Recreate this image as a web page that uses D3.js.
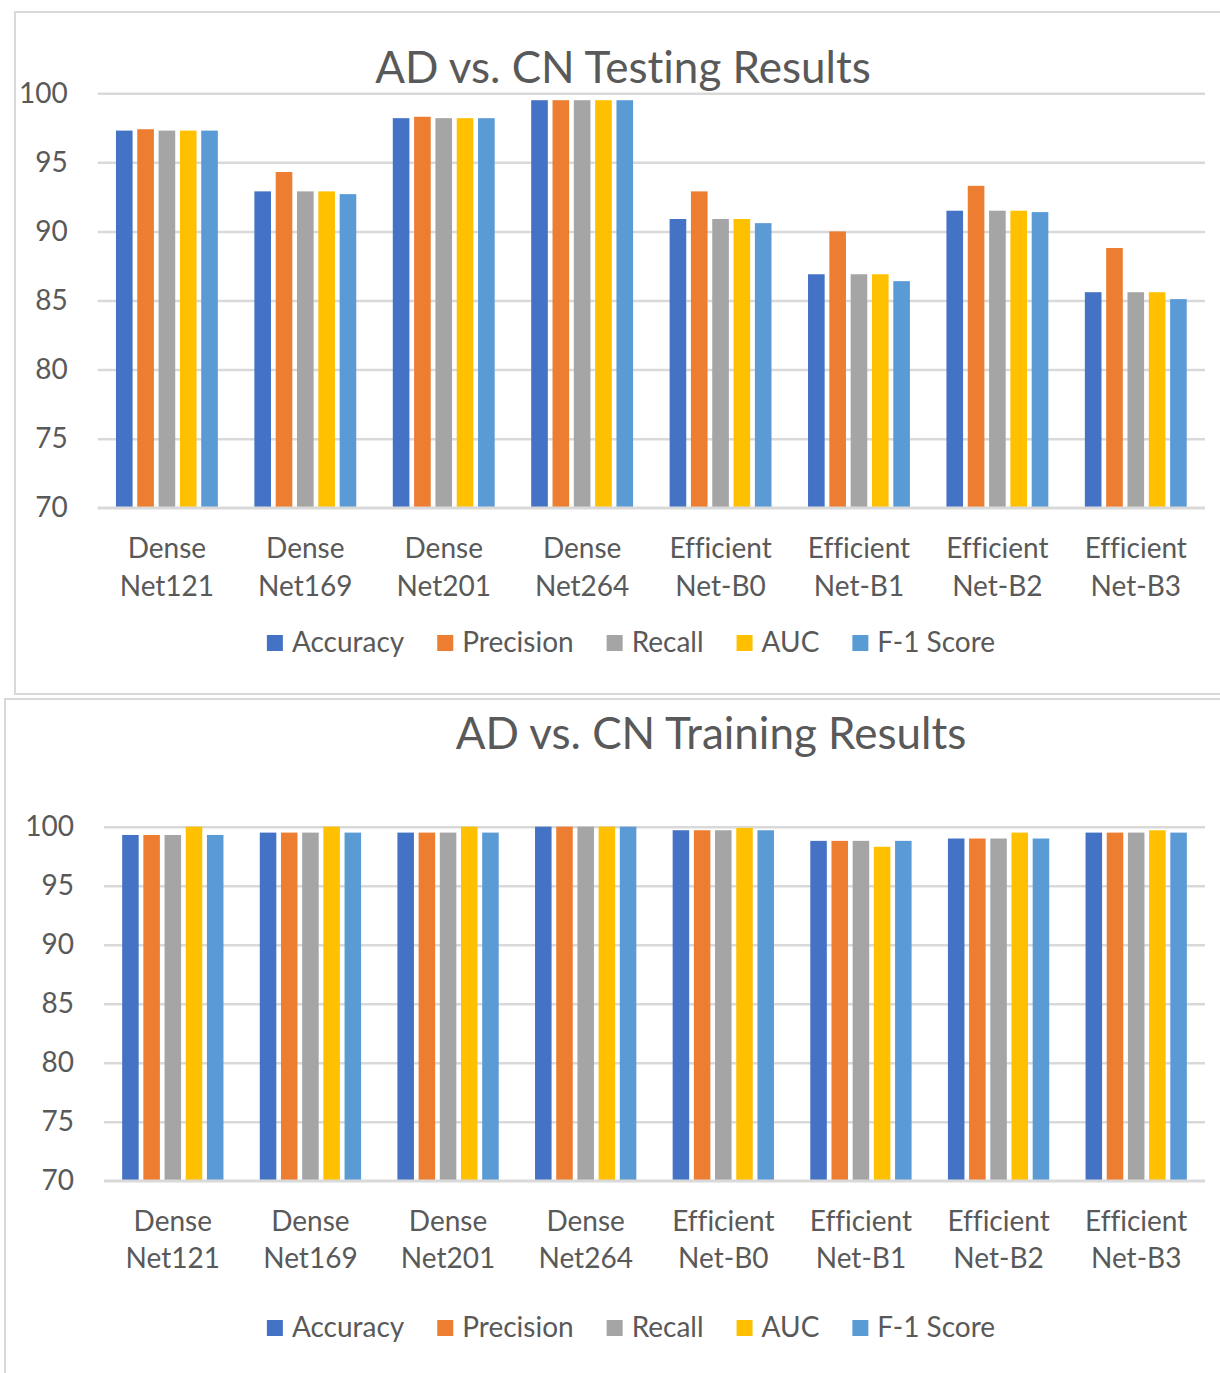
<!DOCTYPE html>
<html>
<head>
<meta charset="utf-8">
<script src="https://cdn.jsdelivr.net/npm/d3@7"></script>
<style>
  html, body { margin: 0; padding: 0; background: #fff; }
  svg { display: block; }
  text { font-family: Lato, "Open Sans", sans-serif; fill: #595959; font-variant-ligatures: none; }
</style>
</head>
<body>
<svg id="chart" width="1220" height="1373"></svg>
<script>
// Models compared (two-line axis labels)
const categoryLines = [
  ["Dense", "Net121"], ["Dense", "Net169"], ["Dense", "Net201"], ["Dense", "Net264"],
  ["Efficient", "Net-B0"], ["Efficient", "Net-B1"], ["Efficient", "Net-B2"], ["Efficient", "Net-B3"]
];
const seriesNames = ["Accuracy", "Precision", "Recall", "AUC", "F-1 Score"];
const seriesColors = ["#4472C4", "#ED7D31", "#A5A5A5", "#FFC000", "#5B9BD5"];
const yTicks = [70, 75, 80, 85, 90, 95, 100];

// Testing metrics (%)
const testAccuracy  = [97.3, 92.9, 98.2, 99.5, 90.9, 86.9, 91.5, 85.6];
const testPrecision = [97.4, 94.3, 98.3, 99.5, 92.9, 90.0, 93.3, 88.8];
const testRecall    = [97.3, 92.9, 98.2, 99.5, 90.9, 86.9, 91.5, 85.6];
const testAUC       = [97.3, 92.9, 98.2, 99.5, 90.9, 86.9, 91.5, 85.6];
const testF1        = [97.3, 92.7, 98.2, 99.5, 90.6, 86.4, 91.4, 85.1];

// Training metrics (%)
const trainAccuracy  = [99.3, 99.5, 99.5, 100, 99.7, 98.8, 99.0, 99.5];
const trainPrecision = [99.3, 99.5, 99.5, 100, 99.7, 98.8, 99.0, 99.5];
const trainRecall    = [99.3, 99.5, 99.5, 100, 99.7, 98.8, 99.0, 99.5];
const trainAUC       = [100, 100, 100, 100, 99.9, 98.3, 99.5, 99.7];
const trainF1        = [99.3, 99.5, 99.5, 100, 99.7, 98.8, 99.0, 99.5];

const svg = d3.select("#chart");
const gridColor = "#D9D9D9";

function drawChart(opt) {
  const g = svg.append("g");

  // chart frame
  g.append("rect")
    .attr("x", opt.frame[0]).attr("y", opt.frame[1])
    .attr("width", opt.frame[2]).attr("height", opt.frame[3])
    .attr("fill", "#fff").attr("stroke", gridColor).attr("stroke-width", 2);

  const x = d3.scaleBand()
    .domain(d3.range(categoryLines.length))
    .range([opt.left, opt.right])
    .paddingInner(0.23).paddingOuter(0.115);
  const xs = d3.scaleBand()
    .domain(d3.range(seriesNames.length))
    .range([0, x.bandwidth()])
    .paddingInner(0.22).paddingOuter(0.11);
  const y = d3.scaleLinear().domain([70, 100]).range([opt.bottom, opt.top]);

  // gridlines + tick labels
  const axis = g.append("g")
    .attr("transform", `translate(${opt.left},0)`)
    .call(d3.axisLeft(y).tickValues(yTicks)
      .tickSize(-(opt.right - opt.left)).tickPadding(30));
  axis.select(".domain").remove();
  axis.selectAll(".tick line").attr("stroke", gridColor).attr("stroke-width", 2.5);
  axis.selectAll(".tick text")
    .attr("fill", "#595959").style("font-size", "28px")
    .style("font-family", "Lato, 'Open Sans', sans-serif");

  // bars
  const groups = g.append("g").selectAll("g")
    .data(categoryLines.map((c, i) => i))
    .join("g")
    .attr("transform", i => `translate(${x(i)},0)`);
  groups.selectAll("rect")
    .data(i => opt.values.map((vals, s) => ({ s, v: vals[i] })))
    .join("rect")
    .attr("x", d => xs(d.s))
    .attr("width", xs.bandwidth())
    .attr("y", d => y(d.v))
    .attr("height", d => y(70) - y(d.v))
    .attr("fill", d => seriesColors[d.s]);

  // category axis line
  g.append("line")
    .attr("x1", opt.left).attr("x2", opt.right)
    .attr("y1", y(70)).attr("y2", y(70))
    .attr("stroke", gridColor).attr("stroke-width", 2.5);

  // category labels
  const lab = g.append("g").selectAll("text")
    .data(categoryLines)
    .join("text")
    .attr("text-anchor", "middle")
    .style("font-size", "28px");
  lab.each(function (lines, i) {
    const t = d3.select(this);
    lines.forEach((ln, k) => {
      t.append("tspan")
        .attr("x", x(i) + x.bandwidth() / 2)
        .attr("y", opt.catBaseline + k * 37.5)
        .text(ln);
    });
  });

  // title
  g.append("text")
    .attr("x", opt.titleX).attr("y", opt.titleY)
    .attr("text-anchor", "middle")
    .style("font-size", "44px")
    .text(opt.title);

  // legend
  const leg = g.append("g");
  const items = leg.selectAll("g").data(seriesNames).join("g");
  items.append("rect")
    .attr("width", 16).attr("height", 16)
    .attr("y", opt.legendY - 17)
    .attr("fill", (d, i) => seriesColors[i]);
  items.append("text")
    .attr("x", 25).attr("y", opt.legendY)
    .style("font-size", "28px")
    .text(d => d);
  let cx = 0;
  items.each(function () {
    const w = d3.select(this).select("text").node().getComputedTextLength();
    d3.select(this).attr("transform", `translate(${cx},0)`);
    cx += 25 + w + 33;
  });
  const total = cx - 33;
  leg.attr("transform", `translate(${opt.legendCenter - total / 2},0)`);
}

drawChart({
  frame: [15, 12, 1300, 682],
  left: 97.7, right: 1205, top: 93.3, bottom: 507.7,
  values: [testAccuracy, testPrecision, testRecall, testAUC, testF1],
  title: "AD vs. CN Testing Results",
  titleX: 623, titleY: 83,
  catBaseline: 558,
  legendY: 652, legendCenter: 631
});

drawChart({
  frame: [5, 699, 1300, 800],
  left: 104, right: 1205, top: 826.7, bottom: 1180.7,
  values: [trainAccuracy, trainPrecision, trainRecall, trainAUC, trainF1],
  title: "AD vs. CN Training Results",
  titleX: 711, titleY: 749,
  catBaseline: 1230.5,
  legendY: 1337, legendCenter: 631
});
</script>
</body>
</html>
